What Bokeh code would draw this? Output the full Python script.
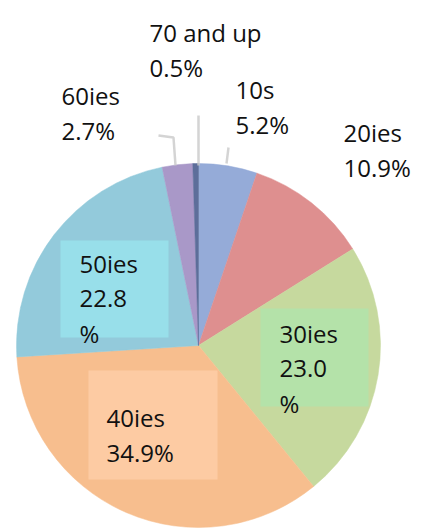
import math
from bokeh.plotting import figure
from bokeh.models import Range1d, ColumnDataSource
from bokeh.core.properties import value
from bokeh.embed import file_html
from bokeh.resources import INLINE

# ---- data ----
groups = ["10s", "20ies", "30ies", "40ies", "50ies", "60ies", "70 and up"]
shares = [5.2, 10.9, 23.0, 34.9, 22.8, 2.7, 0.5]
colors = ["#95abd8", "#de8f8f", "#c6d99e", "#f7be8e", "#93cadb", "#a998c8", "#5d6e9a"]

# label layout: left x, first baseline (screen px), and how the text is split
label_pos = {
    "10s": (235, 89, "two"),
    "20ies": (343, 132, "two"),
    "30ies": (279, 333, "three"),
    "40ies": (106, 417, "two"),
    "50ies": (79, 263, "three"),
    "60ies": (61, 95, "two"),
    "70 and up": (149, 32, "two"),
}
label_boxes = {  # left, top, right, bottom (screen px)
    "30ies": (260, 308, 368, 406, "#b4e2a9"),
    "40ies": (88, 370, 217, 479, "#fdcba3"),
    "50ies": (60, 240, 168, 337, "#98dfea"),
}

W, H = 425, 529
def sy(py):  # screen y -> data y
    return H - py

p = figure(width=W, height=H, output_backend="svg", toolbar_location=None,
           x_range=Range1d(0, W), y_range=Range1d(0, H),
           min_border=0)
p.axis.visible = False
p.grid.visible = False
p.outline_line_color = None
p.background_fill_color = "white"

cx, cy, r = 198, sy(345), 182

# wedges, clockwise from 12 o'clock
total = sum(shares)
starts, ends = [], []
acc = 0.0
for s in shares:
    t1 = acc / total * 2 * math.pi
    acc += s
    t2 = acc / total * 2 * math.pi
    starts.append(math.pi / 2 - t2)
    ends.append(math.pi / 2 - t1)
src = ColumnDataSource(dict(x=[cx] * len(groups), y=[cy] * len(groups),
                            start=starts, end=ends, color=colors, group=groups))
p.wedge(x="x", y="y", radius=r, start_angle="start", end_angle="end",
        fill_color="color", line_color="color", line_width=0.5, source=src)

# faint leader lines above the pie
p.multi_line(xs=[[198, 198], [158, 173, 175], [228, 226]],
             ys=[[sy(115), sy(165)], [sy(135), sy(137), sy(165)], [sy(147), sy(163)]],
             line_color="#c9c9c9", line_width=2.5, line_alpha=0.8)

# label boxes
for g, (l, t, rr, b, c) in label_boxes.items():
    p.quad(left=l, right=rr, top=sy(t), bottom=sy(b), fill_color=c, line_color=None)

# labels
xs, ys, txt = [], [], []
LH = 35
for g, s in zip(groups, shares):
    x0, b0, mode = label_pos[g]
    pct = f"{s:.1f}"
    lines = [g, pct + "%"] if mode == "two" else [g, pct, "%"]
    for i, ln in enumerate(lines):
        xs.append(x0)
        ys.append(sy(b0 + i * LH))
        txt.append(ln)
p.text(x=xs, y=ys, text=txt, text_font=value("Open Sans"), text_font_size="24px",
       text_color="#111111", text_align="left", text_baseline="alphabetic")

open("out.html", "w").write(file_html(p, INLINE))
